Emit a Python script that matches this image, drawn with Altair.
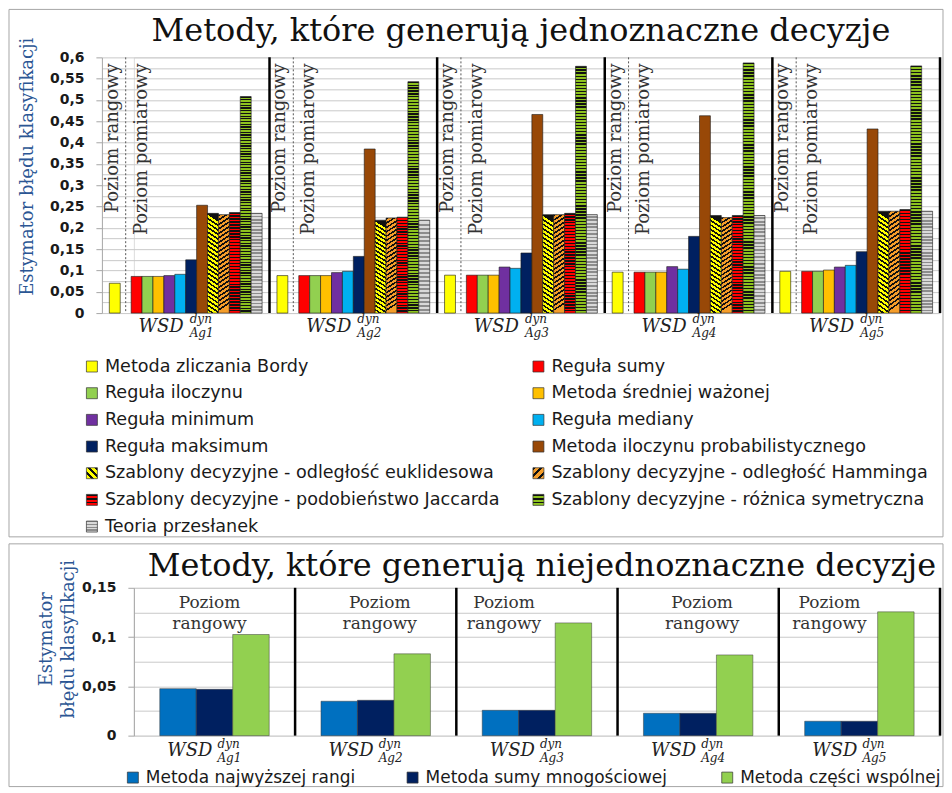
import altair as alt
import pandas as pd

# ---------------- data ----------------
GROUPS = ["Ag1", "Ag2", "Ag3", "Ag4", "Ag5"]
METHODS = [
    "Metoda zliczania Bordy",
    "Reguła sumy",
    "Reguła iloczynu",
    "Metoda średniej ważonej",
    "Reguła minimum",
    "Reguła mediany",
    "Reguła maksimum",
    "Metoda iloczynu probabilistycznego",
    "Szablony decyzyjne - odległość euklidesowa",
    "Szablony decyzyjne - odległość Hamminga",
    "Szablony decyzyjne - podobieństwo Jaccarda",
    "Szablony decyzyjne - różnica symetryczna",
    "Teoria przesłanek",
]
AG1 = [0.070, 0.086, 0.086, 0.086, 0.088, 0.091, 0.125, 0.253, 0.234, 0.231, 0.236, 0.508, 0.234]
AG2 = [0.088, 0.088, 0.088, 0.088, 0.095, 0.098, 0.133, 0.385, 0.218, 0.223, 0.225, 0.543, 0.218]
AG3 = [0.089, 0.089, 0.089, 0.089, 0.108, 0.105, 0.141, 0.466, 0.231, 0.231, 0.234, 0.579, 0.231]
AG4 = [0.096, 0.096, 0.096, 0.096, 0.109, 0.103, 0.180, 0.463, 0.229, 0.224, 0.229, 0.587, 0.229]
AG5 = [0.098, 0.098, 0.098, 0.101, 0.108, 0.112, 0.144, 0.432, 0.239, 0.239, 0.243, 0.580, 0.239]
TOP_VALUES = [AG1, AG2, AG3, AG4, AG5]

B_METHODS = ["Metoda najwyższej rangi", "Metoda sumy mnogościowej", "Metoda części wspólnej"]
NAJW = [0.0477, 0.0349, 0.0257, 0.0227, 0.0146]
SUMY = [0.0470, 0.0359, 0.0257, 0.0227, 0.0146]
CZESCI = [0.1026, 0.0830, 0.1144, 0.0819, 0.1256]
B_VALUES = [NAJW, SUMY, CZESCI]

TITLE_TOP = "Metody, które generują jednoznaczne decyzje"
TITLE_BOT = "Metody, które generują niejednoznaczne decyzje"
Y_TITLE = "Estymator błędu klasyfikacji"
Y_TITLE_B = ["Estymator", "błędu klasyfikacji"]

# ---------------- style ----------------
TOP_COLORS = ["#FFFF00", "#FF0000", "#92D050", "#FFC000", "#7030A0", "#00B0F0",
              "#002060", "#984807", "#FFFF00", "#F59D2A", "#FF0000", "#8DC21F", "#BFBFBF"]
B_COLORS = ["#0070C0", "#002060", "#92D050"]
SERIF = "DejaVu Serif"
SANS = "DejaVu Sans"
AX_BLUE = "#2B5694"
PR_DX = [-5, 4, -33, 4, -30]

W = 807            # common plot width (both panels start at the same left edge)
T_SHIFT = 32       # the top panel's bars start this far left of that edge
T_H, B_H = 256, 148


def stripe_fill(c1, c2, n, x1, y1, x2, y2, frac=0.5):
    stops = []
    for k in range(n):
        a, b, c = k / n, (k + frac) / n, (k + 1) / n
        stops += [{"offset": a, "color": c1}, {"offset": b, "color": c1},
                  {"offset": b, "color": c2}, {"offset": min(c, 1.0), "color": c2}]
    return {"gradient": "linear", "x1": x1, "y1": y1, "x2": x2, "y2": y2, "stops": stops}


PAT_BAR = {
    METHODS[8]: stripe_fill("#111111", "#FFFF00", 22, 0.073, 0, 0, 1, 0.42),
    METHODS[9]: stripe_fill("#111111", "#F59D2A", 22, 0, 0, 0.073, 1, 0.42),
    METHODS[10]: stripe_fill("#111111", "#FF0000", 34, 0, 0, 0, 1, 0.45),
    METHODS[11]: stripe_fill("#111111", "#8DC21F", 80, 0, 0, 0, 1, 0.45),
    METHODS[12]: stripe_fill("#8C8C8C", "#D9D9D9", 70, 0, 0, 0, 1, 0.5),
}
PAT_ICON = {
    METHODS[8]: stripe_fill("#111111", "#FFFF00", 3, 1, 0, 0, 1, 0.4),
    METHODS[9]: stripe_fill("#111111", "#F59D2A", 3, 0, 0, 1, 1, 0.4),
    METHODS[10]: stripe_fill("#111111", "#FF0000", 3, 0, 0, 0, 1, 0.4),
    METHODS[11]: stripe_fill("#111111", "#8DC21F", 3, 0, 0, 0, 1, 0.4),
    METHODS[12]: stripe_fill("#8C8C8C", "#D9D9D9", 4, 0, 0, 0, 1, 0.5),
}

MAJOR_TEST = "abs(round(datum.value*1000) % 50) < 1"
LABEL_EXPR = ("abs(round(datum.value*1000) % 50) < 1 ? "
              "replace(format(datum.value, '.2~f'), '.', ',') : ''")


def y_axis(values, title, tx, ty, offset=0):
    return alt.Axis(
        values=values, title=title, labelExpr=LABEL_EXPR, offset=offset,
        grid=True, gridColor="#C9C9C9", gridWidth=1,
        domain=True, domainColor="#A6A6A6",
        ticks=True, tickColor="#A6A6A6", tickSize=6,
        tickOpacity={"condition": {"test": MAJOR_TEST, "value": 1}, "value": 0},
        labelPadding=12, labelFont=SANS, labelFontSize=14, labelFontWeight="bold",
        labelColor="#1a1a1a",
        titleFont=SERIF, titleFontSize=18, titleFontWeight="normal", titleColor=AX_BLUE,
        titleX=tx, titleY=ty, titleAngle=270, titleAlign="center",
        titleBaseline="middle", titleLineHeight=22,
    )


one = alt.Data(values=[{"k": 1}])

# ---------------- top panel ----------------
top_df = pd.DataFrame([{"group": g, "method": m, "value": v}
                       for g, vals in zip(GROUPS, TOP_VALUES)
                       for m, v in zip(METHODS, vals)])
grp_df = pd.DataFrame({"group": GROUPS})
leg_df = pd.DataFrame({"method": METHODS, "i": list(range(len(METHODS)))})

SLOTS = [METHODS[0], "_gap"] + METHODS[1:]
tx_scale = alt.Scale(domain=GROUPS, paddingInner=0, paddingOuter=0, range=[-T_SHIFT, W])
txo_scale = alt.Scale(domain=SLOTS, paddingInner=0, paddingOuter=0.68)
X_T = alt.X("group:N", scale=tx_scale, axis=None)
XO_T = alt.XOffset("method:N", scale=txo_scale)
Y_T = alt.Y("value:Q", scale=alt.Scale(domain=[0, 0.6]),
            axis=y_axis([i / 40 for i in range(25)], Y_TITLE, -74, 109, offset=T_SHIFT))

t_layers = []
t_layers.append(alt.Chart(one).mark_rect(fill="transparent", stroke="#A6A6A6", strokeWidth=1).encode(
    x=alt.value(-125), x2=alt.value(W + 3), y=alt.value(-48), y2=alt.value(T_H + 224)))
t_layers.append(alt.Chart(one).mark_text(
    text=TITLE_TOP, font=SERIF, fontSize=32, align="center", baseline="alphabetic", color="#111111"
).encode(x=alt.value((W - T_SHIFT) / 2), y=alt.value(-16)))

# vertical level labels
t_layers.append(alt.Chart(grp_df).transform_calculate(method=f"'{METHODS[0]}'").mark_text(
    text="Poziom rangowy", angle=270, align="right", baseline="middle", font=SERIF,
    fontSize=18, color="#333333", dy=-2).encode(x=X_T, xOffset=XO_T, y=alt.value(6)))
t_layers.append(alt.Chart(grp_df).transform_calculate(method=f"'{METHODS[1]}'").mark_text(
    text="Poziom pomiarowy", angle=270, align="right", baseline="middle", font=SERIF,
    fontSize=18, color="#333333", dy=5).encode(x=X_T, xOffset=XO_T, y=alt.value(6)))

t_layers.append(alt.Chart(grp_df).transform_calculate(method="'_gap'").mark_rule(
    strokeDash=[2, 2], color="#555555", strokeWidth=1).encode(x=X_T, xOffset=XO_T))

t_layers.append(alt.Chart(top_df).transform_filter(
    alt.FieldOneOfPredicate(field="method", oneOf=METHODS[:8])
).mark_bar(stroke="#1a1a1a", strokeWidth=0.6).encode(
    x=X_T, xOffset=XO_T, y=Y_T,
    color=alt.Color("method:N", scale=alt.Scale(domain=METHODS, range=TOP_COLORS), legend=None)))
for m in METHODS[8:]:
    t_layers.append(alt.Chart(top_df).transform_filter(
        alt.FieldEqualPredicate(field="method", equal=m)
    ).mark_bar(fill=PAT_BAR[m], stroke="#1a1a1a", strokeWidth=0.6).encode(x=X_T, xOffset=XO_T, y=Y_T))

t_layers.append(alt.Chart(grp_df).mark_rule(color="black", strokeWidth=2.5).encode(
    x=alt.X("group:N", scale=tx_scale, axis=None, bandPosition=1)))

# group labels WSD^dyn_Agk
t_layers.append(alt.Chart(grp_df).mark_text(
    text="WSD", font=SERIF, fontStyle="italic", fontSize=18, align="right", dx=-2,
    baseline="alphabetic", color="#222222").encode(x=X_T, y=alt.value(275)))
t_layers.append(alt.Chart(grp_df).mark_text(
    text="dyn", font=SERIF, fontStyle="italic", fontSize=12, align="left", dx=4,
    baseline="alphabetic", color="#222222").encode(x=X_T, y=alt.value(266)))
t_layers.append(alt.Chart(grp_df).mark_text(
    font=SERIF, fontStyle="italic", fontSize=12, align="left", dx=4,
    baseline="alphabetic", color="#222222").encode(x=X_T, y=alt.value(280), text="group:N"))

# custom legend (two columns)
leg_base = alt.Chart(leg_df).transform_calculate(
    col="datum.i % 2", row="floor(datum.i / 2)"
).transform_calculate(
    ix0="-47.5 + datum.col * 447", ix1="-36.5 + datum.col * 447",
    iy0="304 + datum.row * 26.7", iy1="315 + datum.row * 26.7",
    tx="-29 + datum.col * 447", ty="309.5 + datum.row * 26.7")
ICON_ENC = dict(x=alt.X("ix0:Q", scale=None, axis=None), x2="ix1:Q",
                y=alt.Y("iy0:Q", scale=None, axis=None), y2="iy1:Q")
t_layers.append(leg_base.transform_filter(
    alt.FieldOneOfPredicate(field="method", oneOf=METHODS[:8])
).mark_rect(stroke="#333333", strokeWidth=0.7).encode(
    color=alt.Color("method:N", scale=alt.Scale(domain=METHODS, range=TOP_COLORS), legend=None),
    **ICON_ENC))
for m in METHODS[8:]:
    t_layers.append(leg_base.transform_filter(
        alt.FieldEqualPredicate(field="method", equal=m)
    ).mark_rect(fill=PAT_ICON[m], stroke="#333333", strokeWidth=0.7).encode(**ICON_ENC))
t_layers.append(leg_base.mark_text(
    font=SANS, fontSize=17.6, align="left", baseline="middle", color="#1a1a1a").encode(
    x=alt.X("tx:Q", scale=None, axis=None), y=alt.Y("ty:Q", scale=None, axis=None), text="method:N"))

top = alt.layer(*t_layers).properties(width=W, height=T_H)

# ---------------- bottom panel ----------------
bot_df = pd.DataFrame([{"group": g, "bmethod": m, "value": vals[k]}
                       for m, vals in zip(B_METHODS, B_VALUES)
                       for k, g in enumerate(GROUPS)])
bleg_df = pd.DataFrame({"bmethod": B_METHODS, "i": list(range(len(B_METHODS)))})

bx_scale = alt.Scale(domain=GROUPS, paddingInner=0, paddingOuter=0)
X_B = alt.X("group:N", scale=bx_scale, axis=None)
XO_B = alt.XOffset("bmethod:N", scale=alt.Scale(domain=B_METHODS, paddingInner=0, paddingOuter=0.71))
Y_B = alt.Y("value:Q", scale=alt.Scale(domain=[0, 0.15]),
            axis=y_axis([i / 40 for i in range(7)], Y_TITLE_B, -87, 51))
B_COLOR = alt.Color("bmethod:N", scale=alt.Scale(domain=B_METHODS, range=B_COLORS), legend=None)

b_layers = []
b_layers.append(alt.Chart(one).mark_rect(fill="transparent", stroke="#A6A6A6", strokeWidth=1).encode(
    x=alt.value(-125), x2=alt.value(W + 3), y=alt.value(-44), y2=alt.value(B_H + 51)))
b_layers.append(alt.Chart(one).mark_text(
    text=TITLE_BOT, font=SERIF, fontSize=32, align="center", baseline="alphabetic", color="#111111"
).encode(x=alt.value(W / 2 + 5), y=alt.value(-12)))

for g, dx in zip(GROUPS, PR_DX):
    gd = alt.Data(values=[{"group": g}])
    b_layers.append(alt.Chart(gd).mark_text(
        text="Poziom", font=SERIF, fontSize=17, align="center",
        baseline="alphabetic", dx=dx, color="#333333"
    ).encode(x=X_B, y=alt.value(20)))
    b_layers.append(alt.Chart(gd).mark_text(
        text="rangowy", font=SERIF, fontSize=17, align="center",
        baseline="alphabetic", dx=dx, color="#333333"
    ).encode(x=X_B, y=alt.value(41)))

b_layers.append(alt.Chart(bot_df).mark_bar(stroke="#3a3a3a", strokeWidth=0.5).encode(
    x=X_B, xOffset=XO_B, y=Y_B, color=B_COLOR))

b_layers.append(alt.Chart(grp_df).mark_rule(color="black", strokeWidth=2.5).encode(
    x=alt.X("group:N", scale=bx_scale, axis=None, bandPosition=1)))

b_layers.append(alt.Chart(grp_df).mark_text(
    text="WSD", font=SERIF, fontStyle="italic", fontSize=18, align="right", dx=-2,
    baseline="alphabetic", color="#222222").encode(x=X_B, y=alt.value(168)))
b_layers.append(alt.Chart(grp_df).mark_text(
    text="dyn", font=SERIF, fontStyle="italic", fontSize=12, align="left", dx=3,
    baseline="alphabetic", color="#222222").encode(x=X_B, y=alt.value(160)))
b_layers.append(alt.Chart(grp_df).mark_text(
    font=SERIF, fontStyle="italic", fontSize=12, align="left", dx=3,
    baseline="alphabetic", color="#222222").encode(x=X_B, y=alt.value(174), text="group:N"))

bleg_base = alt.Chart(bleg_df).transform_calculate(
    ic="datum.i == 0 ? -1 : (datum.i == 1 ? 279 : 594)"
).transform_calculate(
    ix0="datum.ic - 5.5", ix1="datum.ic + 5.5",
    iy0="184.5", iy1="195.5", tx="datum.ic + 13", ty="190")
b_layers.append(bleg_base.mark_rect(stroke="#333333", strokeWidth=0.7).encode(
    x=alt.X("ix0:Q", scale=None, axis=None), x2="ix1:Q",
    y=alt.Y("iy0:Q", scale=None, axis=None), y2="iy1:Q", color=B_COLOR))
b_layers.append(bleg_base.mark_text(
    font=SANS, fontSize=17, align="left", baseline="middle", color="#1a1a1a").encode(
    x=alt.X("tx:Q", scale=None, axis=None), y=alt.Y("ty:Q", scale=None, axis=None), text="bmethod:N"))

bottom = alt.layer(*b_layers).properties(width=W, height=B_H)

chart = alt.vconcat(top, bottom, spacing=5).resolve_scale(
    color="independent", xOffset="independent"
).properties(padding=0).configure_view(strokeWidth=0).configure(background="white")

chart.save("out.html", embed_options={"renderer": "svg", "actions": False})
